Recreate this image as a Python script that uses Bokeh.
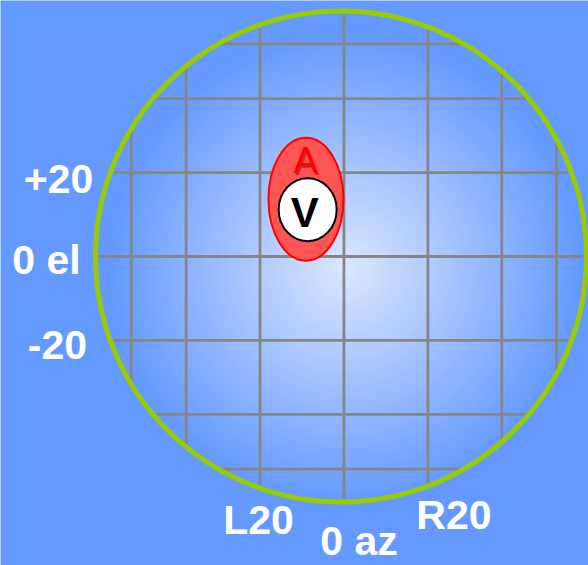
import numpy as np
from bokeh.plotting import figure
from bokeh.models import ColumnDataSource
from bokeh.core.properties import value
from bokeh.embed import file_html
from bokeh.resources import INLINE

# ---------------- data ----------------
az_grid_deg = [-60, -40, -20, 0, 20, 40, 60]
el_grid_deg = [-60, -40, -20, 0, 20, 40, 60]

el_labels = ["+20", "0 el", "-20"]
el_label_deg = [20, 0, -20]
az_labels = ["L20", "0 az", "R20"]
az_label_deg = [-20, 0, 20]

target_az = [-8.9]     # red "A" ellipse centre
target_el = [13.5]
visual_az = [-8.5]     # white "V" circle centre
visual_el = [11.0]

# ---------------- layout / style ----------------
PX = 245.5                 # pixels per unit radius
BG = "#6499FF"
GRID = "#868686"
RING = "#99CC00"
FONT = value("Liberation Sans")
GX_OFF = 0.012             # slight horizontal offset of the grid

W, H = 588, 565
x_lo, x_hi = -340.5 / PX, (W - 340.5) / PX
y_lo, y_hi = (256 - H) / PX, 256 / PX

p = figure(width=W, height=H, x_range=(x_lo, x_hi), y_range=(y_lo, y_hi),
           output_backend="svg", toolbar_location=None, min_border=0,
           x_axis_location=None, y_axis_location=None,
           background_fill_color=BG, border_fill_color=BG,
           outline_line_color=None)
p.xgrid.visible = False
p.ygrid.visible = False

# radial gradient inside the sphere
n = 70
gcx, gcy = 0.018, -0.049
rg = 0.97
rs = np.linspace(rg, rg / n, n)
t = rs / rg
c0 = np.array([220, 232, 255])
c1 = np.array([100, 153, 255])
cols = ["#%02x%02x%02x" % tuple(int(round(v)) for v in (c1 * tt + c0 * (1 - tt))) for tt in t]
p.circle(x=[gcx] * n, y=[gcy] * n, radius=rs, fill_color=cols, line_color=None)

# grid lines (sine projection)
xs = GX_OFF + np.sin(np.radians(az_grid_deg))
ys = np.sin(np.radians(el_grid_deg))
hv = np.sqrt(np.clip(1 - xs ** 2, 0, None)) * 0.985
p.segment(x0=xs, y0=-hv, x1=xs, y1=hv, line_color=GRID, line_width=2.8)
hh = np.sqrt(np.clip(1 - ys ** 2, 0, None)) * 0.985
p.segment(x0=-hh, y0=ys, x1=hh, y1=ys, line_color=GRID, line_width=2.8)

# outer ring
p.circle(x=[0], y=[0], radius=1.0, fill_color=None, line_color=RING, line_width=5)

# target ellipse + visual circle
tx = GX_OFF + np.sin(np.radians(target_az))
ty = np.sin(np.radians(target_el))
p.ellipse(x=tx, y=ty, width=75 / PX, height=123 / PX,
          fill_color="#FF5454", line_color="#FF0000", line_width=2)
vx = GX_OFF + np.sin(np.radians(visual_az))
vy = np.sin(np.radians(visual_el))
p.ellipse(x=vx, y=vy, width=58 / PX, height=63 / PX,
          fill_color="white", line_color="black", line_width=2)

# "A" with shadow
ax_, ay_ = tx[0] - 0.5 / PX, ty[0] + (198.5 - 160) / PX
p.text(x=[ax_], y=[ay_], text=["A"], text_font=FONT, text_font_size="36px",
       text_color="#990000", text_alpha=0.55, text_align="center",
       text_baseline="middle", x_offset=1.5, y_offset=1.5)
p.text(x=[ax_], y=[ay_], text=["A"], text_font=FONT, text_font_size="36px",
       text_color="#FF0000", text_align="center", text_baseline="middle")

# "V"
p.text(x=[vx[0] - 3 / PX], y=[vy[0] - (212 - 209) / PX], text=["V"], text_font=FONT,
       text_font_size="42px", text_font_style="bold", text_color="black",
       text_align="center", text_baseline="middle")

# elevation labels
el_x_px = [58, 46, 57]
el_dy_px = [6, 3, 4.5]
el_src = ColumnDataSource(dict(
    x=[(v - 340.5) / PX for v in el_x_px],
    y=[np.sin(np.radians(e)) - d / PX for e, d in zip(el_label_deg, el_dy_px)],
    text=el_labels))
p.text(x="x", y="y", text="text", source=el_src, text_font=FONT, text_font_size="41px",
       text_font_style="bold", text_color="white", text_align="center",
       text_baseline="middle")

# azimuth labels
az_dx_px = [-1.5, 15, 26]
az_mid_px = [519.5, 540, 514.5]
az_src = ColumnDataSource(dict(
    x=[GX_OFF + np.sin(np.radians(a)) + d / PX for a, d in zip(az_label_deg, az_dx_px)],
    y=[(256 - b) / PX for b in az_mid_px],
    text=az_labels))
p.text(x="x", y="y", text="text", source=az_src, text_font=FONT, text_font_size="41px",
       text_font_style="bold", text_color="white", text_align="center",
       text_baseline="middle")

open("out.html", "w").write(file_html(p, INLINE))
